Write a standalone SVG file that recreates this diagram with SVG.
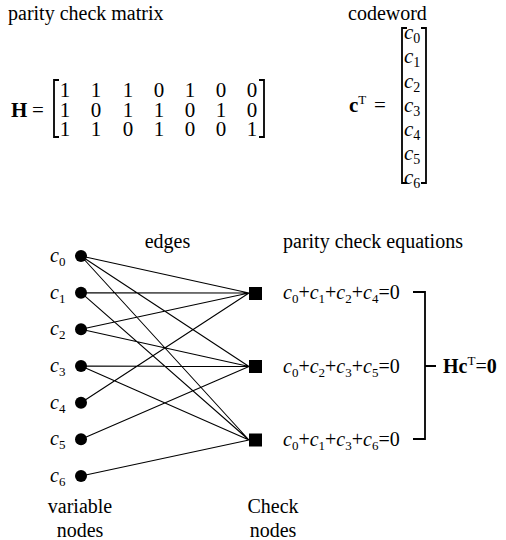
<svg xmlns="http://www.w3.org/2000/svg" width="506" height="540" viewBox="0 0 506 540">
<style>
text{font-family:"Liberation Serif","Times New Roman",serif;fill:#000}
.t20{font-size:20px}
.m{font-size:21px}
.it{font-style:italic}
.b{font-weight:bold}
.sub{font-size:13px}
.vsub{font-size:14px;font-style:normal}
.br{fill:none;stroke:#000;stroke-width:1.8}
.edge{stroke:#000;stroke-width:1.1;fill:none}
.vn{fill:#000}
.cn{fill:#000}
</style>
<rect width="506" height="540" fill="#fff"/>

<g id="matrix">
<text class="t20" x="8" y="20">parity check matrix</text>
<text class="b" font-size="21" x="11" y="117">H</text>
<text class="m" x="32" y="117">=</text>
<path class="br" d="M59,80 H54 V137 H59"/>
<path class="br" d="M259,80 H264 V137 H259"/>
<g class="m" text-anchor="middle">
<text x="65" y="97">1</text><text x="96" y="97">1</text><text x="128" y="97">1</text><text x="159" y="97">0</text><text x="190" y="97">1</text><text x="221" y="97">0</text><text x="252" y="97">0</text>
<text x="65" y="116.5">1</text><text x="96" y="116.5">0</text><text x="128" y="116.5">1</text><text x="159" y="116.5">1</text><text x="190" y="116.5">0</text><text x="221" y="116.5">1</text><text x="252" y="116.5">0</text>
<text x="65" y="136">1</text><text x="96" y="136">1</text><text x="128" y="136">0</text><text x="159" y="136">1</text><text x="190" y="136">0</text><text x="221" y="136">0</text><text x="252" y="136">1</text>
</g>
</g>

<g id="codeword">
<text class="t20" x="348" y="20">codeword</text>
<text font-size="21" x="349" y="112"><tspan class="b">c</tspan><tspan font-size="13" dy="-8">T</tspan></text>
<text class="m" x="374" y="112">=</text>
<path class="br" d="M407,28 H402 V183 H407"/>
<path class="br" d="M421,28 H426 V183 H421"/>
<g font-size="21" class="it">
<text x="404" y="39">c<tspan class="vsub" dy="4">0</tspan></text>
<text x="404" y="63">c<tspan class="vsub" dy="4">1</tspan></text>
<text x="404" y="88">c<tspan class="vsub" dy="4">2</tspan></text>
<text x="404" y="112">c<tspan class="vsub" dy="4">3</tspan></text>
<text x="404" y="136">c<tspan class="vsub" dy="4">4</tspan></text>
<text x="404" y="160">c<tspan class="vsub" dy="4">5</tspan></text>
<text x="404" y="184">c<tspan class="vsub" dy="4">6</tspan></text>
</g>
</g>

<g id="edges">
<path class="edge" d="M81,256 L249,293 M81,256 L249,366.5 M81,256 L249,440
M81,292.7 L249,293 M81,292.7 L249,440
M81,329.3 L249,293 M81,329.3 L249,366.5
M81,366 L249,366.5 M81,366 L249,440
M81,402.7 L249,293
M81,439.3 L249,366.5
M81,476 L249,440"/>
</g>

<text id="edges-label" class="t20" x="167.5" y="248" text-anchor="middle">edges</text>

<g id="v0"><circle class="vn" cx="81" cy="256" r="6"/><text class="t20 it" x="50" y="262">c<tspan class="sub" font-style="normal" dy="4">0</tspan></text></g>
<g id="v1"><circle class="vn" cx="81" cy="292.7" r="6"/><text class="t20 it" x="50" y="298.7">c<tspan class="sub" font-style="normal" dy="4">1</tspan></text></g>
<g id="v2"><circle class="vn" cx="81" cy="329.3" r="6"/><text class="t20 it" x="50" y="335.3">c<tspan class="sub" font-style="normal" dy="4">2</tspan></text></g>
<g id="v3"><circle class="vn" cx="81" cy="366" r="6"/><text class="t20 it" x="50" y="372">c<tspan class="sub" font-style="normal" dy="4">3</tspan></text></g>
<g id="v4"><circle class="vn" cx="81" cy="402.7" r="6"/><text class="t20 it" x="50" y="408.7">c<tspan class="sub" font-style="normal" dy="4">4</tspan></text></g>
<g id="v5"><circle class="vn" cx="81" cy="439.3" r="6"/><text class="t20 it" x="50" y="445.3">c<tspan class="sub" font-style="normal" dy="4">5</tspan></text></g>
<g id="v6"><circle class="vn" cx="81" cy="476" r="6"/><text class="t20 it" x="50" y="482">c<tspan class="sub" font-style="normal" dy="4">6</tspan></text></g>

<g id="variable-label"><text class="t20" x="80" y="513" text-anchor="middle">variable</text><text class="t20" x="80" y="537" text-anchor="middle">nodes</text></g>

<g id="chk1"><rect class="cn" x="249" y="287" width="13" height="13"/></g>
<g id="chk2"><rect class="cn" x="249" y="360" width="13" height="13"/></g>
<g id="chk3"><rect class="cn" x="249" y="433.5" width="13" height="13"/></g>

<g id="check-label"><text class="t20" x="273" y="513" text-anchor="middle">Check</text><text class="t20" x="273" y="537" text-anchor="middle">nodes</text></g>

<g id="equations">
<text class="t20" x="283" y="248">parity check equations</text>
<text class="t20" x="283" y="299"><tspan class="it">c</tspan><tspan class="sub" dy="4">0</tspan><tspan dy="-4">+</tspan><tspan class="it">c</tspan><tspan class="sub" dy="4">1</tspan><tspan dy="-4">+</tspan><tspan class="it">c</tspan><tspan class="sub" dy="4">2</tspan><tspan dy="-4">+</tspan><tspan class="it">c</tspan><tspan class="sub" dy="4">4</tspan><tspan dy="-4">=0</tspan></text>
<text class="t20" x="283" y="372.5"><tspan class="it">c</tspan><tspan class="sub" dy="4">0</tspan><tspan dy="-4">+</tspan><tspan class="it">c</tspan><tspan class="sub" dy="4">2</tspan><tspan dy="-4">+</tspan><tspan class="it">c</tspan><tspan class="sub" dy="4">3</tspan><tspan dy="-4">+</tspan><tspan class="it">c</tspan><tspan class="sub" dy="4">5</tspan><tspan dy="-4">=0</tspan></text>
<text class="t20" x="283" y="446"><tspan class="it">c</tspan><tspan class="sub" dy="4">0</tspan><tspan dy="-4">+</tspan><tspan class="it">c</tspan><tspan class="sub" dy="4">1</tspan><tspan dy="-4">+</tspan><tspan class="it">c</tspan><tspan class="sub" dy="4">3</tspan><tspan dy="-4">+</tspan><tspan class="it">c</tspan><tspan class="sub" dy="4">6</tspan><tspan dy="-4">=0</tspan></text>
</g>

<g id="brace">
<path class="br" d="M413,292 H425 V439 H413 M425,366 H436"/>
<text class="t20" x="443" y="373"><tspan class="b">Hc</tspan><tspan font-size="13" dy="-8">T</tspan><tspan dy="8">=</tspan><tspan class="b">0</tspan></text>
</g>
</svg>
